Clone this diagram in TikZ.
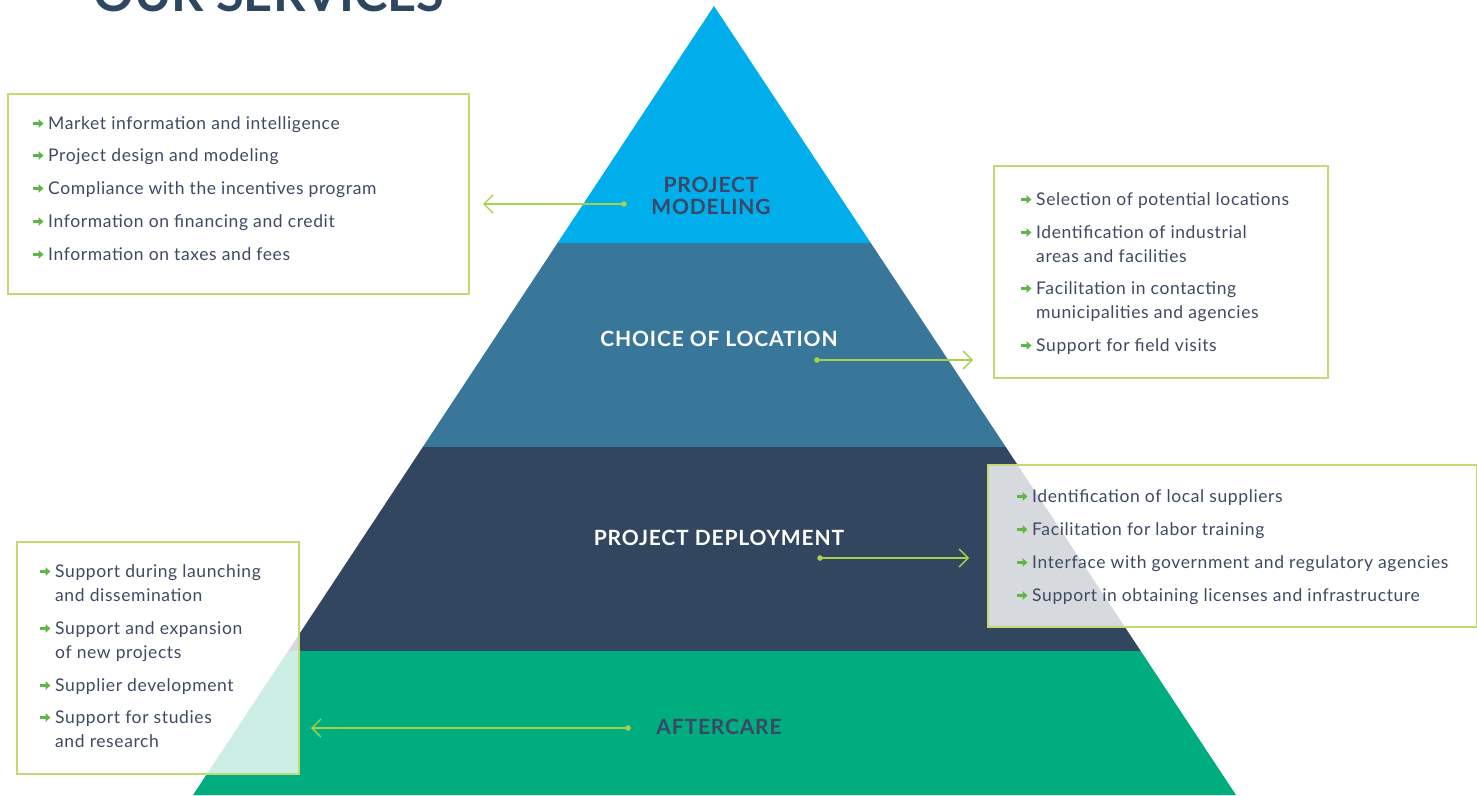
\documentclass[tikz,border=0pt]{standalone}
\usepackage{fontspec}
\setmainfont{Lato}
\usetikzlibrary{arrows.meta}
\definecolor{pcyan}{HTML}{00AEEB}
\definecolor{psteel}{HTML}{38769A}
\definecolor{pnavy}{HTML}{32475F}
\definecolor{pgreen}{HTML}{00AD7E}
\definecolor{titlenavy}{HTML}{2F4661}
\definecolor{labeldark}{HTML}{3A4766}
\definecolor{bodytextc}{HTML}{3E4A62}
\definecolor{boxline}{HTML}{C2DA74}
\definecolor{conline}{HTML}{AACF4A}
\definecolor{bulletgreen}{HTML}{5DB646}
\tikzset{
  infobox/.style={draw=boxline, line width=1.5pt, fill=white, fill opacity=0.8, inner sep=0pt},
  bodytext/.style={anchor=base west, inner sep=0pt, text=bodytextc, font=\fontsize{17.5}{20}\selectfont\addfontfeature{LetterSpace=3.5}},
  levellabel/.style={anchor=base, inner sep=0pt, font=\fontsize{21}{24}\selectfont\bfseries\addfontfeature{LetterSpace=4}},
  connector/.style={draw=conline, line width=1.3pt, -{Straight Barb[length=9pt,width=18pt,line width=1.3pt]}},
  condot/.style={fill=conline},
  bularrow/.pic={\draw[bulletgreen, line width=2.2pt, -{Triangle[length=5pt,width=8.5pt]}] (0,0) -- (11,0);}
}
\newcommand\svc[4]{\pic at (#2-15.5,#3-5.5) {bularrow}; \node[bodytext] (#1) at (#2,#3) {#4};}
\newcommand\svccont[4]{\node[bodytext] (#1) at (#2,#3) {#4};}
\begin{document}
\begin{tikzpicture}[x=1pt,y=-1pt]
\useasboundingbox (0,0) rectangle (1477,795);
% title
\node[anchor=base west, inner sep=0pt, text=titlenavy, font=\fontsize{50.5}{52}\selectfont\bfseries] (title) at (93,12) {OUR SERVICES};
% pyramid
\begin{scope}
\clip (714,6) -- (1236,795) -- (193,795) -- cycle;
\fill[pcyan] (150,0) rectangle (1300,243);
\fill[psteel] (150,243) rectangle (1300,447);
\fill[pnavy] (150,447) rectangle (1300,651);
\fill[pgreen] (150,651) rectangle (1300,800);
\end{scope}
% level labels
\node[levellabel, text=labeldark] (pm1) at (711,192) {PROJECT};
\node[levellabel, text=labeldark] (pm2) at (711,214) {MODELING};
\node[levellabel, text=white] (col) at (719,346) {CHOICE OF LOCATION};
\node[levellabel, text=white] (pdl) at (719,545) {PROJECT DEPLOYMENT};
\node[levellabel, text=labeldark] (acl) at (719,734) {AFTERCARE};
% connectors
\coordinate (c1s) at (624,204); \coordinate (c1e) at (483,204);
\coordinate (c2s) at (817,360); \coordinate (c2e) at (973,360);
\coordinate (c3s) at (820,558); \coordinate (c3e) at (969,558);
\coordinate (c4s) at (628,728); \coordinate (c4e) at (311,728);
\foreach \s/\e in {c1s/c1e,c2s/c2e,c3s/c3e,c4s/c4e}{
  \draw[connector] (\s) -- (\e);
  \fill[condot] (\s) circle (2.8);
}
% boxes
\node[infobox, minimum width=461pt, minimum height=200pt, anchor=north west] (box1) at (7,93) {};
\node[infobox, minimum width=334pt, minimum height=212pt, anchor=north west] (box2) at (993,165) {};
\node[infobox, minimum width=489pt, minimum height=162pt, anchor=north west] (box3) at (987,464) {};
\node[infobox, minimum width=282pt, minimum height=232pt, anchor=north west] (box4) at (16,541) {};
% box 1 text
\svc{t11}{48}{129}{Market information and intelligence}
\svc{t12}{48}{161}{Project design and modeling}
\svc{t13}{48}{194}{Compliance with the incentives program}
\svc{t14}{48}{227}{Information on financing and credit}
\svc{t15}{48}{260}{Information on taxes and fees}
% box 2 text
\svc{t21}{1036}{205}{Selection of potential locations}
\svc{t22}{1036}{238}{Identification of industrial}
\svccont{t22b}{1036}{262}{areas and facilities}
\svc{t23}{1036}{294}{Facilitation in contacting}
\svccont{t23b}{1036}{318}{municipalities and agencies}
\svc{t24}{1036}{351}{Support for field visits}
% box 3 text
\svc{t31}{1032}{502}{Identification of local suppliers}
\svc{t32}{1032}{535}{Facilitation for labor training}
\svc{t33}{1032}{568}{Interface with government and regulatory agencies}
\svc{t34}{1032}{601}{Support in obtaining licenses and infrastructure}
% box 4 text
\svc{t41}{55}{577}{Support during launching}
\svccont{t41b}{55}{601}{and dissemination}
\svc{t42}{55}{634}{Support and expansion}
\svccont{t42b}{55}{658}{of new projects}
\svc{t43}{55}{691}{Supplier development}
\svc{t44}{55}{723}{Support for studies}
\svccont{t44b}{55}{747}{and research}
\end{tikzpicture}
\end{document}
